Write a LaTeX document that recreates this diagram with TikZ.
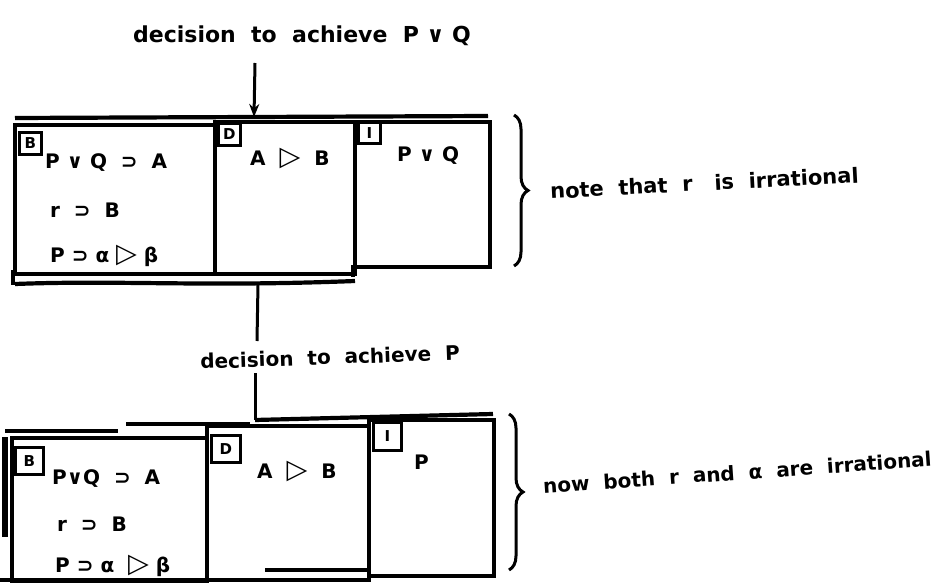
\documentclass[tikz,border=0pt]{standalone}
\usepackage{fontspec}
\setmainfont{DejaVu Sans}
\usetikzlibrary{arrows.meta,decorations.pathreplacing}
\newcommand{\tri}{\scalebox{1.35}{▷}}
\begin{document}
\begin{tikzpicture}[x=1pt,y=-1pt,
  hw/.style={font=\fontsize{20}{22}\selectfont\bfseries, inner sep=0pt},
  lab/.style={font=\fontsize{20}{22}\selectfont\bfseries, inner sep=0pt},
  note/.style={font=\fontsize{21}{23}\selectfont\bfseries, inner sep=0pt},
  comp/.style={draw, line width=4.2pt, inner sep=0pt, anchor=north west},
  tagbox/.style={draw, line width=2.6pt, inner sep=0pt, anchor=north west,
    font=\fontsize{15}{15}\selectfont\bfseries},
  heavy/.style={line width=4.2pt},
  bracestyle/.style={line width=3pt, decorate,
    decoration={brace, amplitude=14pt, aspect=0.5}},
  conn/.style={line width=3pt},
  arrowconn/.style={line width=3pt, -{Stealth[length=13pt,width=10pt]}}]
\useasboundingbox (0,0) rectangle (946,583);

% ---------- top configuration ----------
\node[lab, font=\fontsize{22}{24}\selectfont\bfseries] (toplabel) at (302,36) {decision\ \ to\ \ achieve\ \ P ∨ Q};
\coordinate (a0) at (255,63);
\coordinate (a1) at (254,117);
\draw[arrowconn] (a0) -- (a1);

\node[comp, minimum width=200pt, minimum height=149pt] (tB) at (13,123) {};
\node[comp, minimum width=140pt, minimum height=152pt] (tD) at (213,120) {};
\node[comp, minimum width=135pt, minimum height=145pt] (tI) at (353,120) {};
\draw[heavy] (15,118) -- (488,116);
\draw[heavy] (13,270) -- (13,285);
\draw[heavy] (353,265) -- (353,277);
\draw[heavy] (15,284) .. controls (120,280) and (200,287) .. (355,281);

\node[tagbox, minimum width=22pt, minimum height=22pt] (tBt) at (18,131) {B};
\node[tagbox, minimum width=22pt, minimum height=22pt] (tDt) at (217,122) {D};
\node[tagbox, minimum width=22pt, minimum height=21pt] (tIt) at (357,121) {I};

\node[hw, anchor=west] (tb1) at (45,163) {P ∨ Q\ \ ⊃\ \ A};
\node[hw, anchor=west] (tb2) at (50,210) {r\ \ ⊃\ \ B};
\node[hw, anchor=west] (tb3) at (50,256) {P\ ⊃\ α\ \tri\ β};
\node[hw, anchor=west] (td1) at (250,158) {A\ \ \tri\ \ B};
\node[hw, anchor=west] (ti1) at (397,156) {P ∨ Q};

\draw[bracestyle] (514,115) -- (514,266);
\node[note, rotate=3, anchor=west] (topnote) at (550,191) {note\ \ that\ \ r\ \ \ is\ \ irrational};

% ---------- connector ----------
\coordinate (c0) at (258,284);
\coordinate (c1) at (257,341);
\node[lab, rotate=2] (midlabel) at (330,357) {decision\ \ to\ \ achieve\ \ P};
\coordinate (c2) at (255,373);
\coordinate (c3) at (255,420);
\draw[conn] (c0) -- (c1);
\draw[conn] (c2) -- (c3);

% ---------- bottom configuration ----------
\node[comp, minimum width=195pt, minimum height=146pt] (bB) at (10,436) {};
\node[comp, minimum width=162pt, minimum height=154pt] (bD) at (205,424) {};
\node[comp, minimum width=125pt, minimum height=156pt] (bI) at (367,418) {};
\draw[heavy] (5,431) -- (118,431);
\draw[heavy] (126,424) -- (250,424);
\draw[heavy] (255,420) -- (493,414);
\draw[line width=5.5pt] (5,437) -- (5,537);
\draw[heavy] (0,580) -- (270,580);
\draw[heavy] (265,570) -- (367,570);

\node[tagbox, minimum width=28pt, minimum height=27pt] (bBt) at (14,446) {B};
\node[tagbox, minimum width=29pt, minimum height=27pt] (bDt) at (210,434) {D};
\node[tagbox, minimum width=28pt, minimum height=28pt] (bIt) at (372,421) {I};

\node[hw, anchor=west] (bb1) at (52,479) {P∨Q\ \ ⊃\ \ A};
\node[hw, anchor=west] (bb2) at (57,524) {r\ \ ⊃\ \ B};
\node[hw, anchor=west] (bb3) at (55,566) {P\ ⊃\ α\ \ \tri\ β};
\node[hw, anchor=west] (bd1) at (257,471) {A\ \ \tri\ \ B};
\node[hw, anchor=west] (bi1) at (414,462) {P};

\draw[bracestyle] (509,414) -- (509,570);
\node[note, font=\fontsize{20}{22}\selectfont\bfseries, rotate=4, anchor=west] (botnote) at (543,486) {now\ \ both\ \ r\ \ and\ \ α\ \ are\ \ irrational};
\end{tikzpicture}
\end{document}
